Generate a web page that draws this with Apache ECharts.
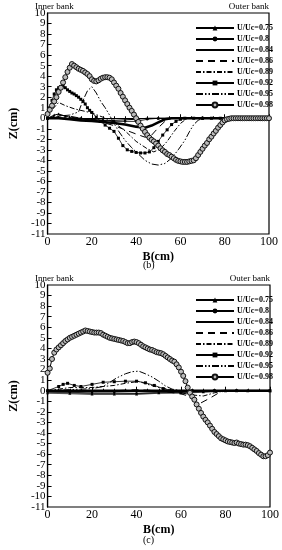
<!DOCTYPE html>
<html><head><meta charset="utf-8">
<script src="https://cdn.jsdelivr.net/npm/echarts@6/dist/echarts.min.js"></script>
<style>html,body{margin:0;padding:0;background:#fff}#c{width:282px;height:550px}</style>
</head><body><div id="c"></div>
<script>
// Series names
const names = ['U/Uc=0.75','U/Uc=0.8','U/Uc=0.84','U/Uc=0.86','U/Uc=0.89','U/Uc=0.92','U/Uc=0.95','U/Uc=0.98'];
const yEndLabels = [-11, 10];
const xTicks = [0,20,40,60,80,100];

// ---- Panel (b) ----
const b075 = [[0,0],[3,0.3],[5,0.4],[8,0.2],[10,0.1],[15,0],[20,-0.1],[25,-0.2],[30,-0.2],[35,-0.15],[40,-0.1],[45,0],[50,0],[60,0],[70,0],[80,0],[90,0],[100,0]];
const b080 = [[0,0],[5,0.1],[10,-0.05],[15,-0.1],[20,-0.15],[25,-0.2],[30,-0.3],[35,-0.3],[40,-0.3],[45,-0.1],[50,0],[60,0],[70,0],[80,0],[90,0],[100,0]];
const b084 = [[0,0],[5,0],[10,-0.1],[15,-0.2],[20,-0.25],[25,-0.35],[30,-0.45],[35,-0.6],[40,-0.8],[44,-0.9],[47,-0.7],[50,-0.4],[53,-0.1],[56,0],[70,0],[85,0],[100,0]];
const b086 = [[0,0],[5,0.3],[10,0.2],[15,0],[20,-0.2],[25,-0.4],[30,-0.7],[35,-1.1],[40,-1.5],[44,-1.8],[47,-1.6],[50,-0.9],[53,-0.3],[56,0],[70,0],[85,0],[100,0]];
const b089 = [[0,0],[2,0.8],[5,1.5],[8,1.2],[12,0.9],[16,0.7],[20,0.5],[25,0.1],[30,-0.4],[35,-1.2],[40,-2.2],[45,-2.9],[48,-3.2],[51,-2.9],[54,-2.2],[57,-1.3],[60,-0.5],[63,0],[80,0],[100,0]];
const b092 = [[0,0],[1,1.0],[2,1.7],[3,2.3],[4,2.7],[5,2.9],[6,3.0],[7,3.05],[8,2.9],[9,2.7],[10,2.55],[11,2.4],[12,2.3],[13,2.15],[14,2.0],[15,1.8],[16,1.6],[17,1.35],[18,1.0],[19,0.75],[20,0.55],[22,0.1],[24,-0.3],[26,-0.65],[28,-0.95],[30,-1.25],[32,-1.9],[34,-2.6],[36,-3.0],[38,-3.15],[40,-3.25],[42,-3.3],[44,-3.3],[46,-3.2],[48,-2.8],[50,-2.2],[52,-1.6],[54,-1.1],[56,-0.6],[58,-0.3],[60,-0.1],[62,0],[66,0],[70,0],[74,0],[78,0],[82,0],[86,0],[90,0],[94,0],[98,0],[100,0]];
const b095 = [[0,0],[5,0.2],[10,0.3],[14,0.6],[16,1.7],[18,2.6],[20,3.0],[22,2.4],[24,1.6],[26,1.0],[28,0.3],[30,-0.5],[32,-1.2],[35,-2.1],[38,-2.8],[41,-3.4],[44,-4.0],[47,-4.35],[50,-4.45],[53,-4.3],[56,-3.8],[59,-3.0],[62,-2.1],[64,-1.3],[66,-0.6],[68,-0.2],[70,0],[85,0],[100,0]];
const b098 = [[0,0.4],[1,0.8],[2,1.2],[3,1.6],[4,2.0],[5,2.5],[6,2.9],[7,3.4],[8,3.9],[9,4.4],[10,4.8],[11,5.15],[12,5.0],[13,4.85],[14,4.7],[15,4.6],[16,4.5],[17,4.35],[18,4.2],[19,4.0],[20,3.7],[21,3.55],[22,3.5],[23,3.6],[24,3.75],[25,3.85],[26,3.9],[27,3.9],[28,3.85],[29,3.7],[30,3.4],[31,3.1],[32,2.8],[33,2.4],[34,2.05],[35,1.7],[36,1.35],[37,1.0],[38,0.7],[39,0.35],[40,0.0],[41,-0.35],[42,-0.7],[43,-1.0],[44,-1.3],[45,-1.6],[46,-1.85],[47,-2.05],[48,-2.2],[49,-2.4],[50,-2.6],[51,-2.85],[52,-3.05],[53,-3.2],[54,-3.4],[55,-3.5],[56,-3.65],[57,-3.8],[58,-3.95],[59,-4.05],[60,-4.1],[61,-4.15],[62,-4.15],[63,-4.15],[64,-4.1],[65,-4.05],[66,-4.0],[67,-3.8],[68,-3.5],[69,-3.2],[70,-2.9],[71,-2.6],[72,-2.35],[73,-2.0],[74,-1.75],[75,-1.45],[76,-1.2],[77,-0.9],[78,-0.65],[79,-0.4],[80,-0.2],[81,-0.1],[82,-0.05],[83,0],[84,0],[85,0],[86,0],[87,0],[88,0],[89,0],[90,0],[91,0],[92,0],[93,0],[94,0],[95,0],[96,0],[97,0],[98,0],[99,0],[100,0]];

// ---- Panel (c) ----
const c075 = [[0,-0.2],[10,-0.25],[20,-0.3],[30,-0.3],[40,-0.3],[50,-0.2],[60,-0.2],[70,-0.1],[80,0],[90,0],[100,0]];
const c080 = [[0,-0.1],[10,-0.15],[20,-0.2],[30,-0.2],[40,-0.25],[50,-0.2],[60,-0.15],[70,-0.1],[80,0],[90,0],[100,0]];
const c084 = [[0,0],[10,0],[20,0],[30,0],[40,0],[50,0],[60,0],[70,0],[80,0],[90,0],[100,0]];
const c086 = [[0,0],[10,0],[20,-0.1],[30,0],[40,0.1],[50,0],[60,-0.3],[65,-0.6],[69,-1.15],[73,-0.7],[77,-0.2],[80,0],[90,0],[100,0]];
const c089 = [[0,0],[10,0.3],[20,0.3],[30,0.5],[35,0.7],[41,0.88],[45,0.6],[50,0.3],[55,0.1],[60,-0.2],[65,-0.4],[70,-0.5],[75,-0.2],[80,0],[90,0],[100,0]];
const c092 = [[0,0],[5,0.4],[7,0.6],[9,0.7],[12,0.5],[15,0.4],[20,0.6],[25,0.8],[30,0.85],[35,0.9],[40,0.9],[44,0.75],[48,0.5],[52,0.2],[56,0],[65,0],[75,0],[85,0],[100,0]];
const c095 = [[0,0],[10,0.1],[20,0.2],[25,0.4],[28,0.8],[31,1.2],[35,1.6],[38,1.8],[41,1.85],[44,1.6],[47,1.3],[50,0.9],[53,0.45],[56,0.15],[60,0],[80,0],[100,0]];
const c098 = [[0,1.7],[1,2.1],[2,3.0],[3,3.6],[4,3.9],[5,4.1],[6,4.3],[7,4.5],[8,4.7],[9,4.85],[10,5.0],[11,5.1],[12,5.2],[13,5.3],[14,5.4],[15,5.5],[16,5.6],[17,5.7],[18,5.65],[19,5.6],[20,5.55],[21,5.5],[22,5.5],[23,5.5],[24,5.45],[25,5.3],[26,5.2],[27,5.1],[28,5.0],[29,4.95],[30,4.9],[31,4.85],[32,4.8],[33,4.75],[34,4.7],[35,4.6],[36,4.5],[37,4.5],[38,4.6],[39,4.65],[40,4.6],[41,4.5],[42,4.35],[43,4.2],[44,4.1],[45,4.0],[46,3.9],[47,3.85],[48,3.75],[49,3.65],[50,3.6],[51,3.55],[52,3.45],[53,3.3],[54,3.15],[55,3.0],[56,2.85],[57,2.75],[58,2.5],[59,2.2],[60,1.8],[61,1.4],[62,0.9],[63,0.3],[64,-0.2],[65,-0.55],[66,-0.85],[67,-1.3],[68,-1.7],[69,-2.1],[70,-2.45],[71,-2.75],[72,-3.0],[73,-3.3],[74,-3.6],[75,-3.9],[76,-4.1],[77,-4.3],[78,-4.5],[79,-4.6],[80,-4.7],[81,-4.8],[82,-4.85],[83,-4.9],[84,-4.95],[85,-4.9],[86,-5.0],[87,-5.05],[88,-5.1],[89,-5.1],[90,-5.15],[91,-5.25],[92,-5.4],[93,-5.55],[94,-5.7],[95,-5.9],[96,-6.05],[97,-6.2],[98,-6.2],[99,-6.1],[100,-5.85]];

const panelB = [b075,b080,b084,b086,b089,b092,b095,b098];
const panelC = [c075,c080,c084,c086,c089,c092,c095,c098];

const FONT = '"Liberation Serif","Times New Roman",serif';
const styles = [
  {lineStyle:{width:1,color:'#000'}, symbol:'triangle', symbolSize:3, itemStyle:{color:'#000'}},
  {lineStyle:{width:0.8,color:'#000'}, symbol:'circle', symbolSize:2.5, itemStyle:{color:'#000'}},
  {lineStyle:{width:2.6,color:'#000'}, symbol:'none', itemStyle:{color:'#000'}},
  {lineStyle:{width:1,color:'#000',type:[7,5]}, symbol:'none', itemStyle:{color:'#000'}},
  {lineStyle:{width:1,color:'#000',type:[5,2,1.5,2]}, symbol:'none', itemStyle:{color:'#000'}},
  {lineStyle:{width:0.8,color:'#000'}, symbol:'rect', symbolSize:3, itemStyle:{color:'#000'}},
  {lineStyle:{width:1,color:'#000',type:[7,2,1.5,2,1.5,2]}, symbol:'none', itemStyle:{color:'#000'}},
  {lineStyle:{width:1,color:'#000'}, symbol:'circle', symbolSize:5, itemStyle:{color:'#bbb',borderColor:'#111',borderWidth:1}}
];
const stylesC = styles.map((s,i)=> i===0 ? Object.assign({}, s, {lineStyle:{width:2,color:'#555'}}) : s);

function makeSeries(data, idx, st){
  return data.map((d,i)=>Object.assign({
    type:'line', name:names[i], data:d, xAxisIndex:idx, yAxisIndex:idx, color:'#000',
    showSymbol: st[i].symbol!=='none', showAllSymbol:true, z: i===7?5:3,
    silent:true, animation:false
  }, JSON.parse(JSON.stringify(st[i]))));
}

function xAxis(gi){
  return {type:'value', gridIndex:gi, min:0, max:100, interval:20,
    name:'B(cm)', nameLocation:'middle', nameGap:17,
    nameTextStyle:{fontFamily:FONT, fontWeight:'bold', fontSize:12, color:'#000'},
    axisLine:{lineStyle:{color:'#000',width:1.2}},
    axisTick:{inside:true,length:4,lineStyle:{color:'#000'}},
    minorTick:{show:true,splitNumber:4,length:2,lineStyle:{color:'#000'}},
    axisLabel:{fontFamily:FONT,fontSize:12,color:'#000',margin:2,showMinLabel:true,showMaxLabel:true},
    splitLine:{show:false}};
}
// main y axis: all inner labels (min/max labels handled by the overlay axis)
function yAxis(gi){
  return {type:'value', gridIndex:gi, min:-11, max:10, interval:1,
    name:'Z(cm)', nameLocation:'middle', nameGap:24,
    nameTextStyle:{fontFamily:FONT, fontWeight:'bold', fontSize:12, color:'#000'},
    axisLine:{lineStyle:{color:'#000',width:1.2}},
    axisTick:{inside:true,length:4,lineStyle:{color:'#000'}},
    axisLabel:{fontFamily:FONT,fontSize:11,color:'#000',margin:2,interval:0,
      showMinLabel:false,showMaxLabel:false,hideOverlap:false},
    splitLine:{show:false}};
}
// overlay y axis with same scale: shows only end labels
function yAxisEnds(gi){
  return {type:'value', gridIndex:gi, min:-11, max:10, interval:1, position:'left',
    axisLine:{show:false}, axisTick:{show:false}, splitLine:{show:false},
    axisLabel:{fontFamily:FONT,fontSize:11,color:'#000',margin:2,interval:0,
      showMinLabel:true,showMaxLabel:true,hideOverlap:false,
      formatter:v => yEndLabels.indexOf(v) >= 0 ? String(v) : ''}};
}
function legend(gi, top){
  return {orient:'vertical', left:190, top:top, itemWidth:38, itemHeight:6, itemGap:3,
    data:names.map((n,i)=> styles[i].symbol==='none' ? {name:n, itemStyle:{opacity:0}} : {name:n}),
    selectedMode:false,
    textStyle:{fontFamily:FONT,fontSize:8,fontWeight:'bold',color:'#000',lineHeight:7,padding:[0,0,0,-2]}};
}

const chart = echarts.init(document.getElementById('c'), null, {renderer:'canvas'});
chart.setOption({
  animation:false,
  backgroundColor:'#fff',
  grid:[
    {left:34, top:13, width:235, height:221, show:true, borderColor:'#000', borderWidth:1.2, backgroundColor:'transparent'},
    {left:34, top:285, width:236, height:222, show:true, borderColor:'#000', borderWidth:1.2, backgroundColor:'transparent'}
  ],
  xAxis:[xAxis(0), xAxis(1)],
  yAxis:[yAxis(0), yAxis(1), yAxisEnds(0), yAxisEnds(1)],
  legend:[legend(0,19), legend(1,291)],
  graphic:[
    {type:'text', left:35, top:2, style:{text:'Inner bank', font:'9px '+FONT, fill:'#000'}},
    {type:'text', right:13, top:2, style:{text:'Outer bank', font:'9px '+FONT, fill:'#000'}},
    {type:'text', left:35, top:274, style:{text:'Inner bank', font:'9px '+FONT, fill:'#000'}},
    {type:'text', right:12, top:274, style:{text:'Outer bank', font:'9px '+FONT, fill:'#000'}},
    {type:'text', left:143, top:260, style:{text:'(b)', font:'10px '+FONT, fill:'#000'}},
    {type:'text', left:143, top:535, style:{text:'(c)', font:'10px '+FONT, fill:'#000'}}
  ],
  series: makeSeries(panelB,0,styles).concat(makeSeries(panelC,1,stylesC))
});
</script></body></html>
